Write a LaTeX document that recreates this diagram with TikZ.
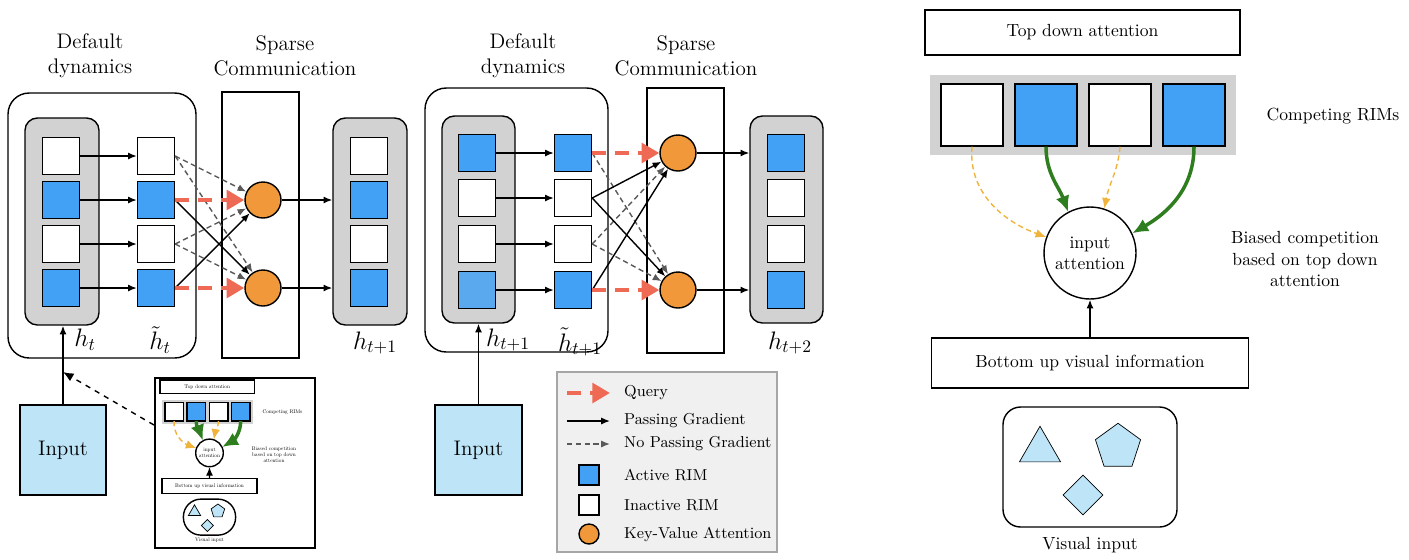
\documentclass[tikz,border=0pt]{standalone}
\usepackage{amsmath}
\usepackage{xcolor}
\usepackage{tikz}
\usetikzlibrary{calc, arrows.meta, shapes.geometric, positioning}

\definecolor{rimblue}{HTML}{42A1F5}
\definecolor{rimfade}{HTML}{5AA9EE}
\definecolor{kvorange}{HTML}{F0983A}
\definecolor{qred}{HTML}{EE6A55}
\definecolor{inblue}{HTML}{BDE5F7}
\definecolor{tdyellow}{HTML}{F0B43C}
\definecolor{tdgreen}{HTML}{2E7D1E}

\tikzset{
  rim/.style={draw, thick, minimum size=0.74cm, inner sep=0pt},
  kv/.style={circle, draw, thick, fill=kvorange, minimum size=0.72cm, inner sep=0pt},
  panel/.style={draw, thick, fill=gray!35, rounded corners=7pt, inner sep=0pt},
  frame/.style={draw, thick, inner sep=0pt},
  pass/.style={-{Latex[length=5pt,width=4pt]}, thick},
  nopass/.style={-{Latex[length=5pt,width=4pt]}, densely dashed, gray!70!black, thick},
  query/.style={-{Triangle[length=10pt,width=11pt]}, qred, line width=2.6pt, dash pattern=on 8pt off 5pt},
  tdsoft/.style={-{Latex[length=6pt,width=5pt]}, tdyellow, densely dashed, thick},
  tdstrong/.style={-{Latex[length=9pt,width=8pt]}, tdgreen, line width=2pt},
}

% right-hand panel, origin at its top left corner
\newcommand{\competitionpanel}{%
  \node[frame, minimum width=6.3cm, minimum height=0.9cm] (top) at (157.5,22.5) {Top down attention};
  \fill[gray!35] (5,65) rectangle (311,145);
  \foreach \x/\c [count=\i] in {47/white,121/rimblue,195/white,269/rimblue}
    \node[rim, fill=\c, minimum size=1.24cm] (s\i) at (\x,105) {};
  \node (crims) at (408,106) {Competing RIMs};
  \node[circle, draw, thick, minimum size=1.84cm, align=center, inner sep=0pt] (att) at (165,243)
    {input\\attention};
  \node[align=center] (bias) at (380,249) {Biased competition\\based on top down\\attention};
  \node[frame, minimum width=6.34cm, minimum height=1cm] (bottom) at (165,353) {Bottom up visual information};
  \draw[thick, rounded corners=10pt] (78,397) rectangle (252,517);
  \node (vis) at (165,535) {Visual input};
  \node[regular polygon, regular polygon sides=3, draw, fill=inblue, minimum size=0.95cm, inner sep=0pt] at (115,440) {};
  \node[regular polygon, regular polygon sides=5, draw, fill=inblue, minimum size=0.95cm, inner sep=0pt] at (193,437) {};
  \node[diamond, draw, fill=inblue, minimum size=0.8cm, inner sep=0pt] at (158,485) {};
  \draw[tdsoft] (s1.south) to[out=-95,in=160] (att.160);
  \draw[tdstrong] (s2.south) to[out=-90,in=110] (att.118);
  \draw[tdsoft] (s3.south) to[out=-95,in=80] (att.72);
  \draw[tdstrong] (s4.south) to[out=-90,in=30] (att.25);
  \draw[pass] (bottom) -- (att);
}

\begin{document}
\begin{tikzpicture}[x=0.02cm, y=-0.02cm, font=\normalsize]
\useasboundingbox (0,0) rectangle (1409,559);

% ---------------- first step ----------------
\node[draw, thick, rounded corners=12pt, minimum width=3.76cm, minimum height=5.3cm] (dyn1) at (102,225.5) {};
\node[frame, minimum width=1.54cm, minimum height=5.32cm] (sp1) at (260.5,225) {};
\node[panel, minimum width=1.48cm, minimum height=4.14cm] (g1) at (62,221.5) {};
\node[panel, minimum width=1.48cm, minimum height=4.14cm] (g2) at (370,221.5) {};
\node[align=center, font=\large] at (90,56) {Default\\dynamics};
\node[align=center, font=\large] at (285,56) {Sparse\\Communication};

\foreach \y/\c [count=\i] in {156/white,200/rimblue,244/white,288/rimblue} {
  \node[rim, fill=\c] (a\i) at (61,\y) {};
  \node[rim, fill=\c] (b\i) at (156,\y) {};
  \node[rim, fill=\c] (c\i) at (369,\y) {};
  \draw[pass] (a\i) -- (b\i);
}
\node[kv] (k1) at (263,200) {};
\node[kv] (k2) at (263,288) {};

\draw[nopass] (b1.east) -- (k1);
\draw[nopass] (b1.east) -- (k2);
\draw[nopass] (b3.east) -- (k1);
\draw[nopass] (b3.east) -- (k2);
\draw[pass] (b2.east) -- (k2);
\draw[pass] (b4.east) -- (k1);
\draw[query] (b2) -- (k1);
\draw[query] (b4) -- (k2);
\draw[pass] (k1) -- (g2.west |- k1);
\draw[pass] (k2) -- (g2.west |- k2);

\node[font=\Large] at (85,340) {$h_t$};
\node[font=\Large] at (160,340) {$\tilde{h}_t$};
\node[font=\Large] at (375,343) {$h_{t+1}$};

\node[frame, fill=inblue, minimum width=1.72cm, minimum height=1.8cm, font=\large] (in1) at (63,450) {Input};
\draw[pass] (in1.north) -- (in1.north |- g1.south);
\coordinate (hit) at (63,372);

% inset copy of the competition panel
\node[draw, line width=1.2pt, minimum width=3.2cm, minimum height=3.4cm] (inset) at (235,463) {};
\draw[dashed, thick, -{Latex[length=6pt,width=5pt]}] (inset.west |- 0,425) -- (hit);
\begin{scope}[shift={(160,380)}, scale=0.3, transform shape, name prefix=mini-, thin]
  \competitionpanel
\end{scope}

% ---------------- second step ----------------
\node[draw, thick, rounded corners=12pt, minimum width=3.66cm, minimum height=5.28cm] (dyn2) at (516.5,220) {};
\node[frame, minimum width=1.54cm, minimum height=5.3cm] (sp2) at (685.5,220.5) {};
\node[panel, minimum width=1.46cm, minimum height=4.14cm] (g3) at (478.5,219.5) {};
\node[panel, minimum width=1.46cm, minimum height=4.14cm] (g4) at (786.5,219.5) {};
\node[align=center, font=\large] at (523,56) {Default\\dynamics};
\node[align=center, font=\large] at (686,56) {Sparse\\Communication};

\foreach \y/\c/\t [count=\i] in {153/rimblue/rimblue,198/white/white,244/white/white,290/rimfade/rimblue} {
  \node[rim, fill=\c] (d\i) at (477,\y) {};
  \node[rim, fill=\t] (e\i) at (573,\y) {};
  \node[rim, fill=\t] (f\i) at (786,\y) {};
  \draw[pass] (d\i) -- (e\i);
}
\node[kv] (m1) at (678,153) {};
\node[kv] (m2) at (678,290) {};

\draw[nopass] (e1.east) -- (m2);
\draw[nopass] (e3.east) -- (m1);
\draw[nopass] (e3.east) -- (m2);
\draw[pass] (e2.east) -- (m1);
\draw[pass] (e2.east) -- (m2);
\draw[pass] (e4.east) -- (m1);
\draw[query] (e1) -- (m1);
\draw[query] (e4) -- (m2);
\draw[pass] (m1) -- (g4.west |- m1);
\draw[pass] (m2) -- (g4.west |- m2);

\node[font=\Large] at (508,340) {$h_{t+1}$};
\node[font=\Large] at (580,342) {$\tilde{h}_{t+1}$};
\node[font=\Large] at (790,343) {$h_{t+2}$};

\node[frame, fill=inblue, minimum width=1.74cm, minimum height=1.8cm, font=\large] (in2) at (478.5,450) {Input};
\draw[pass] (in2.north) -- (in2.north |- g3.south);

% ---------------- legend ----------------
\draw[gray!70, thick, fill=gray!12] (557,372) rectangle (777,552);
\draw[query] (567,393) -- (610,393);
\draw[pass] (567,421) -- (610,421);
\draw[nopass] (567,444) -- (610,444);
\node[rim, fill=rimblue, minimum size=0.4cm] at (589,475) {};
\node[rim, fill=white, minimum size=0.4cm] at (589,505) {};
\node[kv, minimum size=0.4cm] at (589,534) {};
\foreach \y/\t in {393/Query,421/Passing Gradient,444/No Passing Gradient,475/Active RIM,505/Inactive RIM,534/Key-Value Attention}
  \node[anchor=west, font=\small] at (618,\y) {\t};

% ---------------- competition panel ----------------
\begin{scope}[shift={(925,10)}]
  \competitionpanel
\end{scope}
\end{tikzpicture}
\end{document}
